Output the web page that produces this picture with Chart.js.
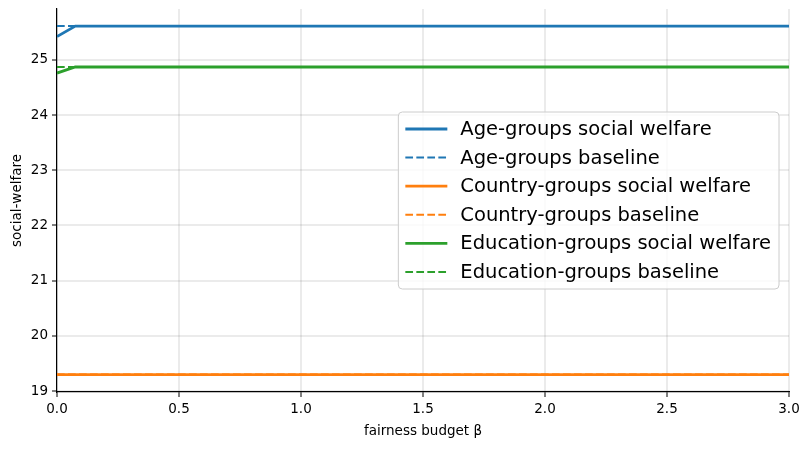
<!DOCTYPE html>
<html>
<head>
<meta charset="utf-8">
<script src="https://cdn.jsdelivr.net/npm/chart.js@4.4.1/dist/chart.umd.min.js"></script>
<style>
  html, body { margin: 0; padding: 0; background: #fff; }
  #wrap { width: 809px; height: 449px; }
</style>
</head>
<body>
<div id="wrap"><canvas id="chart-welfare"></canvas></div>
<script>
// fairness budget beta values
var betas = [0, 0.075, 0.5, 1.0, 1.5, 2.0, 2.5, 3.0];

// social welfare per group set
var ageWelfare = [25.42, 25.61, 25.61, 25.61, 25.61, 25.61, 25.61, 25.61];
var countryWelfare = [19.30, 19.30, 19.30, 19.30, 19.30, 19.30, 19.30, 19.30];
var educationWelfare = [24.76, 24.87, 24.87, 24.87, 24.87, 24.87, 24.87, 24.87];

// baselines
var ageBaseline = [25.61, 25.61, 25.61, 25.61, 25.61, 25.61, 25.61, 25.61];
var countryBaseline = [19.30, 19.30, 19.30, 19.30, 19.30, 19.30, 19.30, 19.30];
var educationBaseline = [24.87, 24.87, 24.87, 24.87, 24.87, 24.87, 24.87, 24.87];

var xTicks = [0, 0.5, 1.0, 1.5, 2.0, 2.5, 3.0];
var yTicks = [19, 20, 21, 22, 23, 24, 25];

var FONT = 'DejaVu Sans';

function pts(vals) {
    return betas.map(function (b, i) { return {x: b, y: vals[i]}; });
}

function line(label, vals, color, dashed) {
    return {
        label: label,
        data: pts(vals),
        borderColor: color,
        backgroundColor: color,
        borderWidth: dashed ? 2 : 2.8,
        borderDash: dashed ? [7.7, 3.3] : [],
        pointRadius: 0,
        tension: 0,
        fill: false
    };
}

var datasets = [
    line('Age-groups social welfare', ageWelfare, '#1f77b4', false),
    line('Age-groups baseline', ageBaseline, '#1f77b4', true),
    line('Country-groups social welfare', countryWelfare, '#ff7f0e', false),
    line('Country-groups baseline', countryBaseline, '#ff7f0e', true),
    line('Education-groups social welfare', educationWelfare, '#2ca02c', false),
    line('Education-groups baseline', educationBaseline, '#2ca02c', true)
];

// matplotlib style legend drawn inside the plot, center right
var boxLegend = {
    id: 'boxLegend',
    afterDraw: function (chart) {
        var ctx = chart.ctx, area = chart.chartArea;
        var fs = 19.5;
        var rowH = 28.6;
        ctx.save();
        ctx.font = fs + 'px "' + FONT + '"';
        var maxW = 0;
        chart.data.datasets.forEach(function (d) {
            maxW = Math.max(maxW, ctx.measureText(d.label).width);
        });
        var padL = 7, padR = 8, handle = 42, gap = 13;
        var w = padL + handle + gap + maxW + padR;
        var h = rowH * (chart.data.datasets.length - 1) + 34;
        var x0 = area.right - 10 - w;
        var y0 = (area.top + area.bottom) / 2 - h / 2;

        ctx.beginPath();
        ctx.roundRect(x0, y0, w, h, 4);
        ctx.fillStyle = 'rgba(255,255,255,0.8)';
        ctx.fill();
        ctx.strokeStyle = '#cccccc';
        ctx.lineWidth = 1;
        ctx.stroke();

        chart.data.datasets.forEach(function (d, i) {
            var cy = y0 + 17 + rowH * i;
            ctx.beginPath();
            ctx.strokeStyle = d.borderColor;
            ctx.lineWidth = d.borderWidth;
            ctx.setLineDash(d.borderDash);
            ctx.moveTo(x0 + padL, cy);
            ctx.lineTo(x0 + padL + handle, cy);
            ctx.stroke();
            ctx.setLineDash([]);
            ctx.fillStyle = '#000';
            ctx.textBaseline = 'middle';
            ctx.textAlign = 'left';
            ctx.fillText(d.label, x0 + padL + handle + gap, cy + 1);
        });
        ctx.restore();
    }
};

new Chart(document.getElementById('chart-welfare').getContext('2d'), {
    type: 'line',
    data: {datasets: datasets},
    options: {
        responsive: true,
        maintainAspectRatio: false,
        animation: false,
        layout: {padding: {top: 9, right: 20, left: 9, bottom: 9}},
        plugins: {
            legend: {display: false},
            tooltip: {enabled: false}
        },
        scales: {
            x: {
                type: 'linear',
                min: 0,
                max: 3,
                afterBuildTicks: function (s) { s.ticks = xTicks.map(function (v) { return {value: v}; }); },
                afterFit: function (s) { s.height = 48; s.paddingLeft = 0; s.paddingRight = 0; },
                grid: {color: 'rgba(0,0,0,0.08)', lineWidth: 2, tickColor: '#000', tickLength: 5, tickWidth: 1},
                border: {display: true, color: '#000', width: 1.2},
                ticks: {
                    color: '#000', padding: 4, maxRotation: 0,
                    font: {family: FONT, size: 13.5},
                    callback: function (v) { return v.toFixed(1); }
                },
                title: {display: true, text: 'fairness budget β', color: '#000', font: {family: FONT, size: 13.5}, padding: {top: 4, bottom: 0}}
            },
            y: {
                type: 'linear',
                min: 18.985,
                max: 25.92,
                afterBuildTicks: function (s) { s.ticks = yTicks.map(function (v) { return {value: v}; }); },
                afterFit: function (s) { s.width = 48; s.paddingTop = 0; s.paddingBottom = 0; },
                grid: {color: 'rgba(0,0,0,0.08)', lineWidth: 2, tickColor: '#000', tickLength: 5, tickWidth: 1},
                border: {display: true, color: '#000', width: 1.2},
                ticks: {
                    color: '#000', padding: 4,
                    font: {family: FONT, size: 13.5},
                    callback: function (v) { return String(v); }
                },
                title: {display: true, text: 'social-welfare', color: '#000', font: {family: FONT, size: 13.5}, padding: {top: 0, bottom: 2}}
            }
        }
    },
    plugins: [boxLegend]
});
</script>
</body>
</html>
